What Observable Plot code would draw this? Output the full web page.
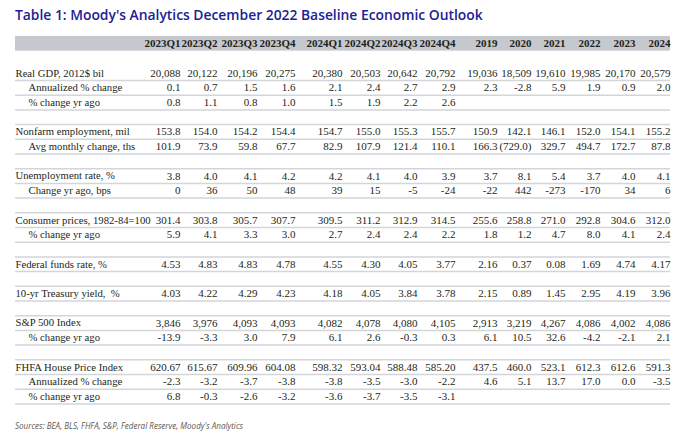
<!DOCTYPE html>
<html><head><meta charset="utf-8">
<script src="https://cdn.jsdelivr.net/npm/d3@7"></script>
<script src="https://cdn.jsdelivr.net/npm/@observablehq/plot@0.6"></script>
<style>
body{margin:0;background:#fff;width:697px;height:435px;overflow:hidden}
#title{font-family:"Open Sans",sans-serif;font-weight:600;font-size:14px;color:#1b2196;height:30px;line-height:30px;padding-left:15px;white-space:nowrap}
#chart svg{display:block}
#caption{font-family:"Open Sans",sans-serif;font-style:italic;font-size:8px;color:#5f5750;height:20px;line-height:20px;padding-left:15px;padding-top:6px;white-space:nowrap}
</style></head><body>
<div id="title"><span>Table 1: Moody's Analytics December 2022 Baseline Economic Outlook</span></div>
<div id="chart"></div>
<div id="caption"><span>Sources: BEA, BLS, FHFA, S&amp;P, Federal Reserve, Moody's Analytics</span></div>
<script>
// ---- data ----
const columns = ["2023Q1","2023Q2","2023Q3","2023Q4","2024Q1","2024Q2","2024Q3","2024Q4","2019","2020","2021","2022","2023","2024"];
const realGDP = [20088,20122,20196,20275,20380,20503,20642,20792,19036,18509,19610,19985,20170,20579];
const gdpAnnualized = [0.1,0.7,1.5,1.6,2.1,2.4,2.7,2.9,2.3,-2.8,5.9,1.9,0.9,2.0];
const gdpYoY = [0.8,1.1,0.8,1.0,1.5,1.9,2.2,2.6,null,null,null,null,null,null];
const payrolls = [153.8,154.0,154.2,154.4,154.7,155.0,155.3,155.7,150.9,142.1,146.1,152.0,154.1,155.2];
const payrollChange = [101.9,73.9,59.8,67.7,82.9,107.9,121.4,110.1,166.3,-729.0,329.7,494.7,172.7,87.8];
const unemployment = [3.8,4.0,4.1,4.2,4.2,4.1,4.0,3.9,3.7,8.1,5.4,3.7,4.0,4.1];
const unempChangeBps = [0,36,50,48,39,15,-5,-24,-22,442,-273,-170,34,6];
const cpi = [301.4,303.8,305.7,307.7,309.5,311.2,312.9,314.5,255.6,258.8,271.0,292.8,304.6,312.0];
const cpiYoY = [5.9,4.1,3.3,3.0,2.7,2.4,2.4,2.2,1.8,1.2,4.7,8.0,4.1,2.4];
const fedFunds = [4.53,4.83,4.83,4.78,4.55,4.30,4.05,3.77,2.16,0.37,0.08,1.69,4.74,4.17];
const treasury10 = [4.03,4.22,4.29,4.23,4.18,4.05,3.84,3.78,2.15,0.89,1.45,2.95,4.19,3.96];
const sp500 = [3846,3976,4093,4093,4082,4078,4080,4105,2913,3219,4267,4086,4002,4086];
const sp500YoY = [-13.9,-3.3,3.0,7.9,6.1,2.6,-0.3,0.3,6.1,10.5,32.6,-4.2,-2.1,2.1];
const fhfa = [620.67,615.67,609.96,604.08,598.32,593.04,588.48,585.20,437.5,460.0,523.1,612.3,612.6,591.3];
const fhfaAnnualized = [-2.3,-3.2,-3.7,-3.8,-3.8,-3.5,-3.0,-2.2,4.6,5.1,13.7,17.0,0.0,-3.5];
const fhfaYoY = [6.8,-0.3,-2.6,-3.2,-3.6,-3.7,-3.5,-3.1,null,null,null,null,null,null];

// ---- formatting ----
const loc = d3.formatLocale({decimal:".", thousands:",", grouping:[3], currency:["$",""], minus:"-"});
const fInt = loc.format(",.0f"), f1 = loc.format(".1f"), f2 = loc.format(".2f"), fPar = loc.format("(.1f"), fD = loc.format("d");
const nQuarters = 8;

const groups = [
  [{label:"Real GDP, 2012$ bil", values:realGDP, fmt:fInt},
   {label:"Annualized % change", indent:true, values:gdpAnnualized, fmt:f1},
   {label:"% change yr ago", indent:true, values:gdpYoY, fmt:f1}],
  [{label:"Nonfarm employment, mil", values:payrolls, fmt:f1},
   {label:"Avg monthly change, ths", indent:true, values:payrollChange, fmt:fPar}],
  [{label:"Unemployment rate, %", values:unemployment, fmt:f1},
   {label:"Change yr ago, bps", indent:true, values:unempChangeBps, fmt:fD}],
  [{label:"Consumer prices, 1982-84=100", values:cpi, fmt:f1},
   {label:"% change yr ago", indent:true, values:cpiYoY, fmt:f1}],
  [{label:"Federal funds rate, %", values:fedFunds, fmt:f2}],
  [{label:"10-yr Treasury yield,\u00a0 %", values:treasury10, fmt:f2}],
  [{label:"S&P 500 Index", values:sp500, fmt:fInt},
   {label:"% change yr ago", indent:true, values:sp500YoY, fmt:f1}],
  [{label:"FHFA House Price Index", values:fhfa, fmt:(v,j) => j < nQuarters ? f2(v) : f1(v)},
   {label:"Annualized % change", indent:true, values:fhfaAnnualized, fmt:f1},
   {label:"% change yr ago", indent:true, values:fhfaYoY, fmt:f1}]
];

// ---- layout (table geometry, px) ----
const tableLeft = 15, indentPx = 13;
const colWidths = [165,37,40,38,47,38,37,38,42,34,34,35,35,35]; // label-to-first-col, then each column
const colRight = d3.cumsum(colWidths).map(w => tableLeft + w);
const tableRight = colRight[colRight.length - 1];

// build rows: row 0 header, then groups separated by a blank row
const rows = [], lines = [];
let r = 2;
groups.forEach((g, gi) => {
  if (gi > 0) lines.push(r);
  g.forEach(row => { rows.push({...row, r}); lines.push(r + 1); r++; });
  r++;
});
const nRows = r - 1;

const headerCells = columns.map((c, j) => ({x: colRight[j], text: c}));
const labelCells = rows.map(d => ({x: tableLeft + (d.indent ? indentPx : 0), y: d.r + 0.5, text: d.label}));
const valueCells = rows.flatMap(d => d.values.map((v, j) => v == null ? null : ({x: colRight[j], y: d.r + 0.5, text: d.fmt(v, j)})).filter(Boolean));

const ink = "#231f20";
const chart = Plot.plot({
  width: 697, height: 380, margin: 0,
  x: {type: "identity", axis: null},
  y: {type: "linear", domain: [0, nRows], range: [5.9, 5.9 + nRows * 14.7], axis: null},
  style: {fontFamily: "'Liberation Serif', serif", fontSize: "11px", color: ink, background: "#fff"},
  marks: [
    Plot.rect([0], {x1: tableLeft, x2: tableRight, y1: 0, y2: 1, fill: "#c5c8cd"}),
    Plot.ruleY(lines, {y: d => d, x1: tableLeft, x2: tableRight, stroke: "#d3d5d8", strokeWidth: 1.5}),
    Plot.text(headerCells, {x: "x", y: 0.5, text: "text", textAnchor: "end", fontWeight: "bold", fill: ink}),
    Plot.text(labelCells, {x: "x", y: "y", text: "text", textAnchor: "start", fill: ink, fontSize: 10.7}),
    Plot.text(valueCells, {x: "x", y: "y", text: "text", textAnchor: "end", fill: ink})
  ]
});
document.getElementById("chart").append(chart);

// fit title and caption to the reference widths
function fit(sel, target) {
  const el = document.querySelector(sel), span = el.querySelector("span");
  const fs = parseFloat(getComputedStyle(el).fontSize);
  const w = span.getBoundingClientRect().width;
  if (w > 0) el.style.fontSize = (fs * target / w).toFixed(2) + "px";
}
fit("#title", 468);
fit("#caption", 228);
</script>
</body></html>
